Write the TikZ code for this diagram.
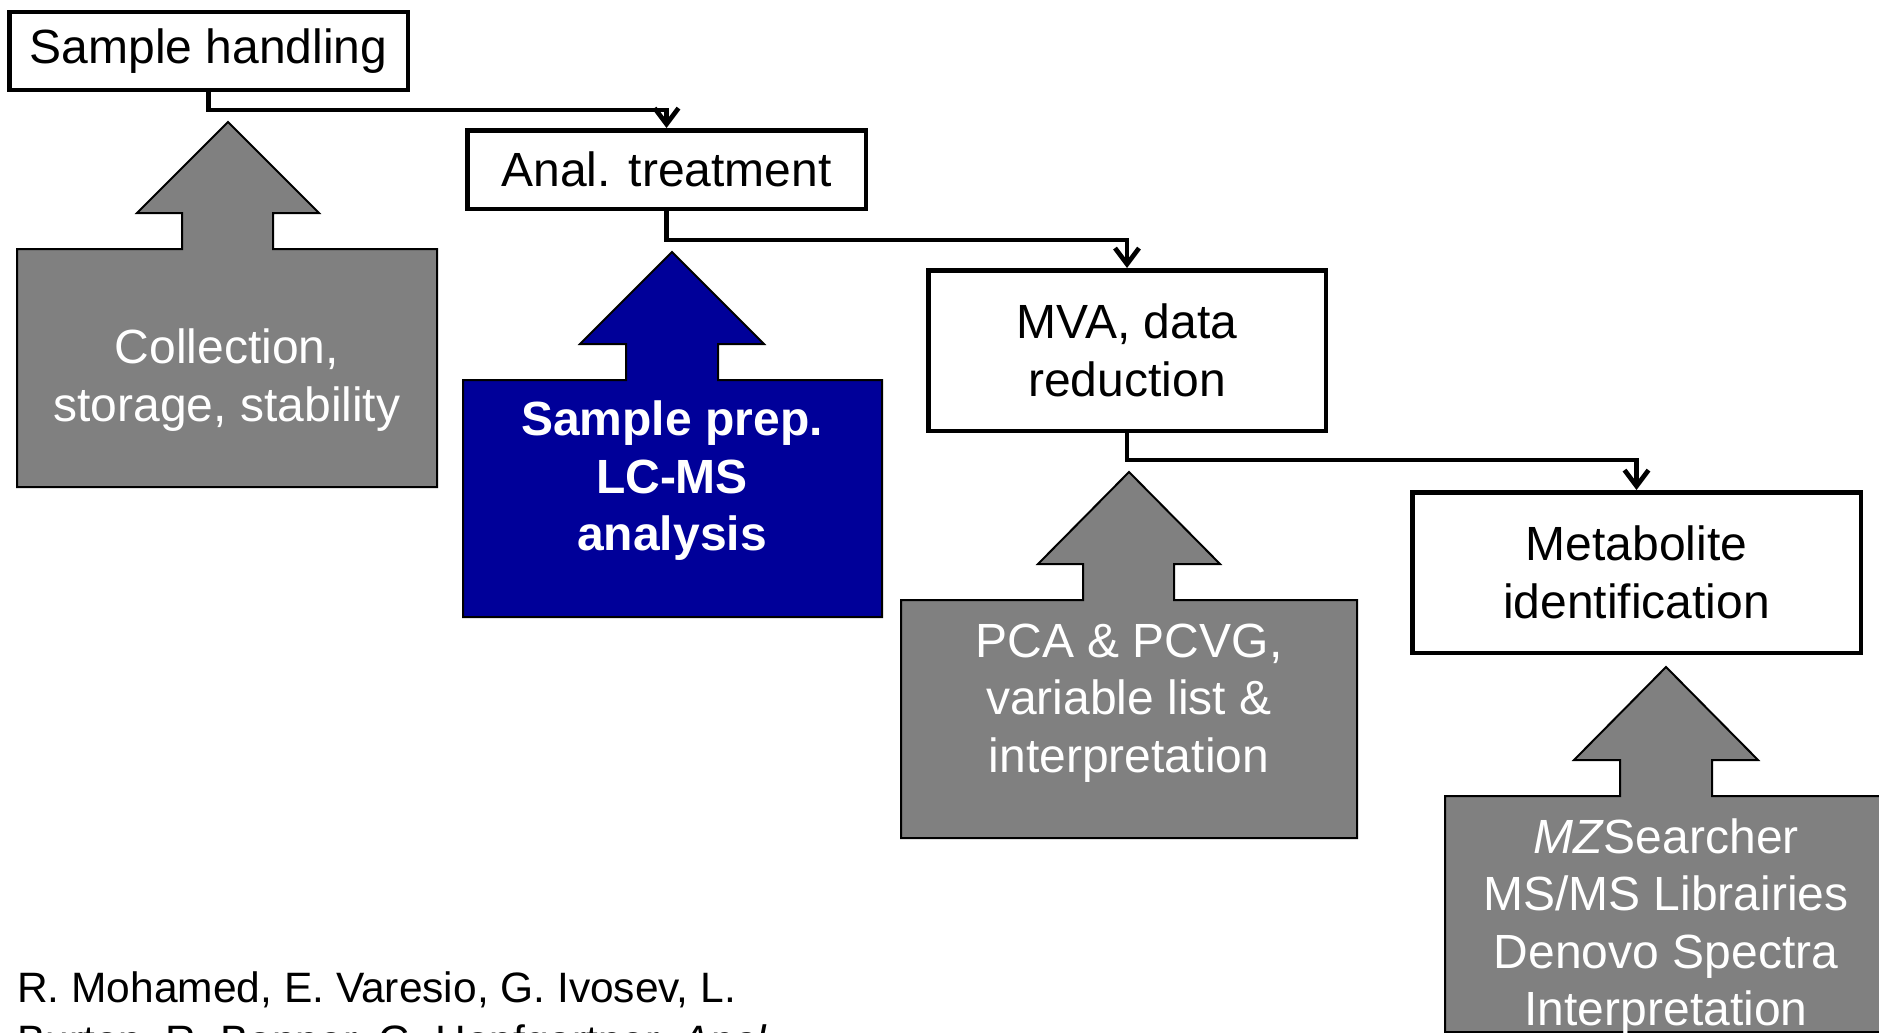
\documentclass[tikz,border=0pt]{standalone}
\usepackage{fontspec}
\setmainfont{Liberation Sans}
\usetikzlibrary{arrows.meta}
\definecolor{calloutgray}{RGB}{128,128,128}
\definecolor{calloutblue}{RGB}{0,0,153}
\begin{document}
\begin{tikzpicture}[x=1pt,y=-1pt,
  stepbox/.style={draw=black, line width=4.5pt, fill=white, inner sep=0pt, align=center,
    font=\fontsize{48}{57.5}\selectfont},
  flow/.style={draw=black, line width=4.7pt, -{Straight Barb[length=16pt,width=24pt]}},
  callout/.style={draw=black, line width=2pt, line join=miter},
  callouttext/.style={text=white, align=center, inner sep=0pt, font=\fontsize{48}{57.5}\selectfont},
  citetext/.style={anchor=north west, inner sep=0pt, align=left, font=\fontsize{42.5}{53}\selectfont}
]
\useasboundingbox (0,0) rectangle (1879,1033);
\clip (0,0) rectangle (1879,1033);
\fill[white] (0,0) rectangle (1879,1033);

% process boxes
\node[stepbox, minimum width=398.5pt, minimum height=77.5pt] (sh) at (208.5,51) {Sample handling};
\node[stepbox, minimum width=398.5pt, minimum height=78.5pt] (at) at (666.5,169.5) {Anal. treatment};
\node[stepbox, minimum width=397.5pt, minimum height=160.5pt] (mva) at (1127,350.5) {MVA, data\\reduction};
\node[stepbox, minimum width=448.5pt, minimum height=160.5pt] (mi) at (1636.5,572.5) {Metabolite\\identification};

% connectors
\draw[flow] (sh.south) -- (sh.south |- 0,110) -| (at.north);
\draw[flow] (at.south) -- (at.south |- 0,240) -| (mva.north);
\draw[flow] (mva.south) -- (mva.south |- 0,460) -| (mi.north);

% callouts
\draw[callout, fill=calloutgray] (17,249) -- (182,249) -- (182,213) -- (137,213) -- (228,122) -- (319,213) -- (273,213) -- (273,249) -- (437,249) -- (437,487) -- (17,487) -- cycle;
\node[callouttext] (c1) at (227,380) {Collection,\\storage, stability};

\draw[callout, fill=calloutblue] (463,380) -- (626,380) -- (626,344) -- (580,344) -- (672,252) -- (764,344) -- (718,344) -- (718,380) -- (882,380) -- (882,617) -- (463,617) -- cycle;
\node[callouttext, font=\fontsize{48}{57.5}\selectfont\bfseries] (c2) at (672,481) {Sample prep.\\LC-MS\\analysis};

\draw[callout, fill=calloutgray] (901,600) -- (1083,600) -- (1083,564) -- (1038,564) -- (1129,472) -- (1220,564) -- (1174,564) -- (1174,600) -- (1357,600) -- (1357,838) -- (901,838) -- cycle;
\node[callouttext] (c3) at (1129,703) {PCA \& PCVG,\\variable list \&\\interpretation};

\draw[callout, fill=calloutgray] (1445,796) -- (1620,796) -- (1620,760) -- (1574,760) -- (1666,667) -- (1758,760) -- (1712,760) -- (1712,796) -- (1895,796) -- (1895,1032) -- (1445,1032) -- cycle;
\node[callouttext] (c4) at (1666,927) {\textit{MZ}Searcher\\MS/MS Librairies\\Denovo Spectra\\Interpretation};

% citation
\node[citetext] (cite) at (17,971) {R. Mohamed, E. Varesio, G. Ivosev, L.\\Burton, R. Bonner, G. Hopfgartner, \textit{Anal.}};
\end{tikzpicture}
\end{document}
